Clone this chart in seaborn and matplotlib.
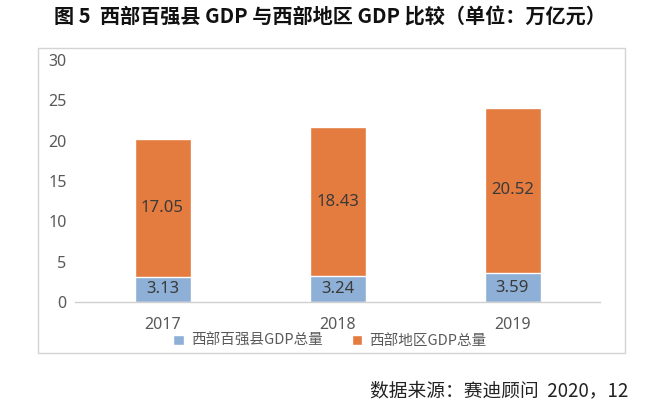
import matplotlib
matplotlib.use("Agg")
import matplotlib.pyplot as plt
import seaborn as sns
import pandas as pd
from matplotlib.patches import Rectangle

years = ["2017", "2018", "2019"]
county_gdp = [3.13, 3.24, 3.59]
west_gdp = [17.05, 18.43, 20.52]
series_names = ["西部百强县GDP总量", "西部地区GDP总量"]
yticks = [0, 5, 10, 15, 20, 25, 30]
title = "图 5  西部百强县 GDP 与西部地区 GDP 比较（单位：万亿元）"
source = "数据来源：赛迪顾问  2020，12"

sns.set_theme(style="white")
plt.rcParams['font.family'] = ['Noto Sans CJK SC', 'DejaVu Sans']

blue = "#8eb0d6"
orange = "#e47b3f"

fig = plt.figure(figsize=(6.6, 4.16), dpi=100)
fig.patch.set_facecolor("white")

# outer border of chart area
fig.patches.append(Rectangle((38/660, 1-353/416), (625-38)/660, (353-48)/416,
                             transform=fig.transFigure, fill=False,
                             edgecolor="#d4d4d4", linewidth=1.0))

ax = fig.add_axes([75/660, 1-302/416, 525/660, 242/416])

df = pd.DataFrame({"year": years, "county": county_gdp,
                   "total": [c + w for c, w in zip(county_gdp, west_gdp)]})

sns.barplot(data=df, x="year", y="total", color=orange, width=0.32,
            saturation=1, ax=ax, label=series_names[1])
sns.barplot(data=df, x="year", y="county", color=blue, width=0.32,
            saturation=1, ax=ax, label=series_names[0])

for i in range(len(years)):
    ax.text(i, county_gdp[i] / 2, f"{county_gdp[i]:.2f}", ha="center", va="center",
            fontsize=12, color="#3a3a3a", family=['Noto Sans', 'DejaVu Sans'])
    ax.text(i, county_gdp[i] + west_gdp[i] / 2, f"{west_gdp[i]:.2f}", ha="center",
            va="center", fontsize=12, color="#3a3a3a", family=['Noto Sans', 'DejaVu Sans'])

ax.set_xlim(-0.5, 2.5)
ax.set_ylim(0, 30)
ax.set_yticks(yticks)
ax.set_yticklabels([str(t) for t in yticks])
ax.set_xlabel("")
ax.set_ylabel("")
for s in ["top", "right", "left"]:
    ax.spines[s].set_visible(False)
ax.spines["bottom"].set_color("#d0d0d0")
ax.spines["bottom"].set_linewidth(1.0)
ax.tick_params(axis="both", length=0, labelsize=11.5, colors="#595959")
ax.tick_params(axis="y", pad=6)
ax.tick_params(axis="x", pad=11)
for lbl in ax.get_xticklabels() + ax.get_yticklabels():
    lbl.set_family(['Noto Sans', 'DejaVu Sans'])
ax.set_facecolor("none")

handles, labels = ax.get_legend_handles_labels()
order = [labels.index(series_names[0]), labels.index(series_names[1])]
leg = fig.legend([handles[i] for i in order], [labels[i] for i in order],
                 loc="center", bbox_to_anchor=(330/660, 1-341/416), ncol=2,
                 frameon=False, fontsize=10.5, handlelength=0.7, handleheight=0.7,
                 columnspacing=2.0, handletextpad=0.5)
for t in leg.get_texts():
    t.set_color("#595959")
if ax.get_legend():
    ax.get_legend().remove()

fig.text(330/660, 1-17/416, title, ha="center", va="center", fontsize=14.5,
         fontweight="bold", color="#111111")
fig.text(628/660, 1-391/416, source, ha="right", va="center", fontsize=13.5,
         color="#222222")

fig.savefig("out.png", dpi=100, facecolor="white")
